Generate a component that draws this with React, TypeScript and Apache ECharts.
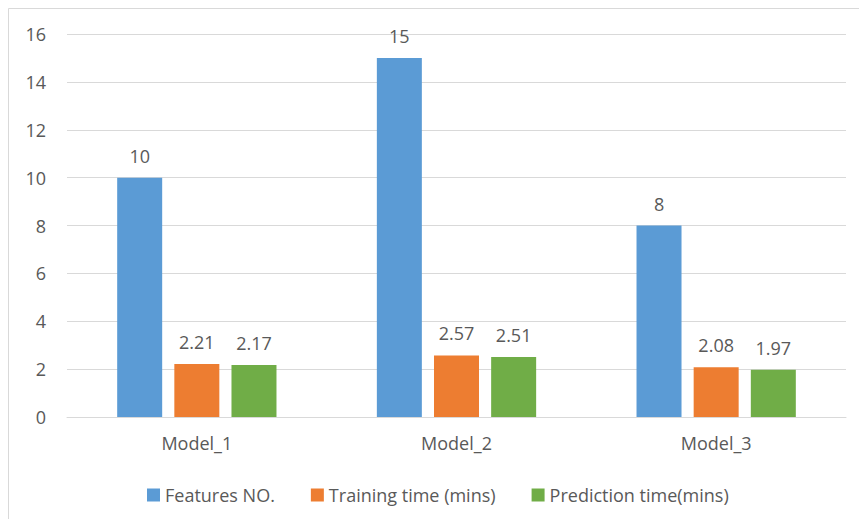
import React, { useEffect, useRef } from "react";
import * as echarts from "echarts";

const categories = ["Model_1", "Model_2", "Model_3"];
const featuresNo = [10, 15, 8];
const trainingTime = [2.21, 2.57, 2.08];
const predictionTime = [2.17, 2.51, 1.97];
const seriesNames = ["Features NO.", "Training time (mins)", "Prediction time(mins)"];
const colors = ["#5B9BD5", "#ED7D31", "#70AD47"];

const FONT = "'Open Sans', 'Noto Sans', sans-serif";
const TEXT = "#595959";
const LINE = "#D9D9D9";

export default function App() {
  const ref = useRef<HTMLDivElement>(null);

  useEffect(() => {
    if (!ref.current) return;
    const chart = echarts.init(ref.current, undefined, { renderer: "svg" });

    const makeSeries = (name: string, data: number[], color: string) => ({
      name,
      type: "bar",
      data,
      barWidth: 45,
      barGap: "27%",
      itemStyle: { color },
      label: {
        show: true,
        position: "top",
        distance: 13,
        color: TEXT,
        fontFamily: FONT,
        fontSize: 18,
      },
    });

    chart.setOption({
      animation: false,
      backgroundColor: "#ffffff",
      textStyle: { fontFamily: FONT },
      graphic: [
        {
          type: "rect",
          shape: { x: 8.5, y: 8.5, width: 900, height: 600 },
          style: { fill: "none", stroke: LINE, lineWidth: 1 },
          silent: true,
        },
      ],
      grid: { left: 67, right: 13, top: 34, bottom: 102 },
      legend: {
        data: seriesNames,
        left: 142,
        top: 481,
        itemWidth: 13,
        itemGap: 36,
        itemHeight: 13,
        icon: "rect",
        textStyle: { color: TEXT, fontFamily: FONT, fontSize: 18 },
      },
      xAxis: {
        type: "category",
        data: categories,
        axisLine: { show: true, lineStyle: { color: LINE, width: 1 } },
        axisTick: { show: false },
        axisLabel: { color: TEXT, fontFamily: FONT, fontSize: 18, margin: 17 },
      },
      yAxis: {
        type: "value",
        min: 0,
        max: 16,
        interval: 2,
        axisLine: { show: false },
        axisTick: { show: false },
        axisLabel: { color: TEXT, fontFamily: FONT, fontSize: 18, margin: 21 },
        splitLine: { show: true, lineStyle: { color: LINE, width: 1 } },
      },
      series: [
        makeSeries(seriesNames[0], featuresNo, colors[0]),
        makeSeries(seriesNames[1], trainingTime, colors[1]),
        makeSeries(seriesNames[2], predictionTime, colors[2]),
      ],
    });

    return () => chart.dispose();
  }, []);

  return (
    <div
      ref={ref}
      style={{ position: "absolute", left: 0, top: 0, width: 859, height: 519 }}
    />
  );
}
